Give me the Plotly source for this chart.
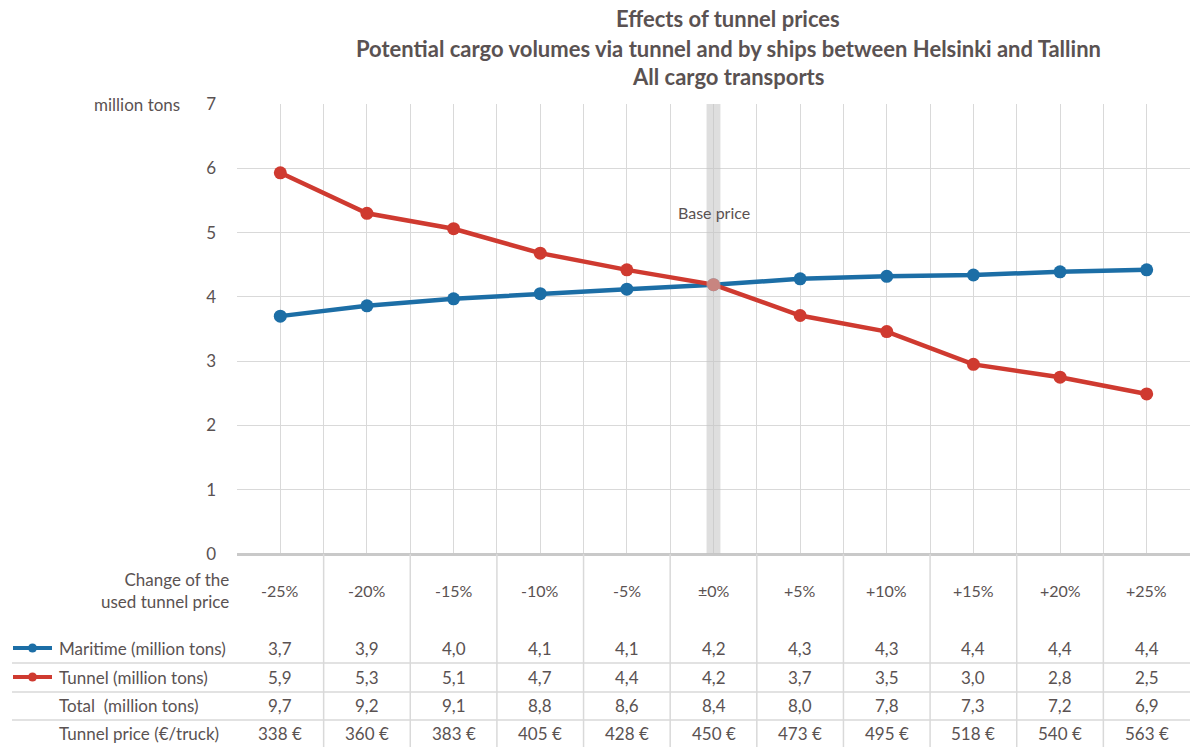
import plotly.graph_objects as go

# ---------------- data ----------------
categories = ["-25%", "-20%", "-15%", "-10%", "-5%", "±0%", "+5%", "+10%", "+15%", "+20%", "+25%"]
maritime = [3.70, 3.86, 3.97, 4.05, 4.12, 4.19, 4.28, 4.32, 4.34, 4.39, 4.42]
tunnel = [5.93, 5.30, 5.06, 4.68, 4.42, 4.19, 3.71, 3.46, 2.95, 2.75, 2.49]
maritime_tbl = ["3,7", "3,9", "4,0", "4,1", "4,1", "4,2", "4,3", "4,3", "4,4", "4,4", "4,4"]
tunnel_tbl = ["5,9", "5,3", "5,1", "4,7", "4,4", "4,2", "3,7", "3,5", "3,0", "2,8", "2,5"]
total_tbl = ["9,7", "9,2", "9,1", "8,8", "8,6", "8,4", "8,0", "7,8", "7,3", "7,2", "6,9"]
price_tbl = ["338 €", "360 €", "383 €", "405 €", "428 €", "450 €", "473 €", "495 €", "518 €", "540 €", "563 €"]
row_labels = ["Maritime (million tons)", "Tunnel (million tons)", "Total  (million tons)", "Tunnel price (€/truck)"]
header_label = "Change of the<br>used tunnel price"
title_lines = ["Effects of tunnel prices",
               "Potential cargo volumes via tunnel and by ships between Helsinki and Tallinn",
               "All cargo transports"]
y_unit = "million tons"
base_label = "Base price"
base_index = 5

# ---------------- style ----------------
W, H = 1190, 747
L, R, T, B = 237, 1190, 104, 554
FONT = "Lato"
TXT = "#5a5252"
GRID = "#d9d9d9"
BLUE = "#1c6ea6"
RED = "#cf3a30"
TBL = 17


def px_x(px):
    return (px - L) / (R - L)


def px_y(py):
    return (B - py) / (B - T)


x = list(range(len(categories)))

fig = go.Figure()
fig.add_trace(go.Scatter(x=x, y=maritime, mode="lines+markers", name=row_labels[0],
                         line=dict(color=BLUE, width=4.5), marker=dict(color=BLUE, size=13),
                         showlegend=False))
fig.add_trace(go.Scatter(x=x, y=tunnel, mode="lines+markers", name=row_labels[1],
                         line=dict(color=RED, width=4.5), marker=dict(color=RED, size=13),
                         showlegend=False))

annotations = []
# title
for i, (t, py) in enumerate(zip(title_lines, [18, 48, 77])):
    annotations.append(dict(text=f"<b>{t}</b>", x=px_x(728), y=px_y(py), xref="paper", yref="paper",
                            showarrow=False, xanchor="center", yanchor="middle",
                            font=dict(family=FONT, size=22, color=TXT)))
# y unit
annotations.append(dict(text=y_unit, x=px_x(182), y=px_y(104), xref="paper", yref="paper",
                        showarrow=False, xanchor="right", yanchor="middle",
                        font=dict(family=FONT, size=17, color=TXT)))
# base price
annotations.append(dict(text=base_label, x=base_index, y=5.32, xref="x", yref="y",
                        showarrow=False, xanchor="center", yanchor="middle",
                        font=dict(family=FONT, size=16, color=TXT)))
# header row
annotations.append(dict(text=header_label, x=px_x(231), y=px_y(590), xref="paper", yref="paper",
                        showarrow=False, xanchor="right", yanchor="middle", align="right",
                        font=dict(family=FONT, size=TBL, color=TXT)))
for i, c in enumerate(categories):
    annotations.append(dict(text=c, x=i, y=px_y(590), xref="x", yref="paper",
                            showarrow=False, xanchor="center", yanchor="middle",
                            font=dict(family=FONT, size=16, color=TXT)))
# data rows
row_ys = [648, 677, 705, 733]
for lab, vals, py in zip(row_labels, [maritime_tbl, tunnel_tbl, total_tbl, price_tbl], row_ys):
    annotations.append(dict(text=lab, x=px_x(57), y=px_y(py), xref="paper", yref="paper",
                            showarrow=False, xanchor="left", yanchor="middle",
                            font=dict(family=FONT, size=TBL, color=TXT)))
    for i, v in enumerate(vals):
        annotations.append(dict(text=v, x=i, y=px_y(py), xref="x", yref="paper",
                                showarrow=False, xanchor="center", yanchor="middle",
                                font=dict(family=FONT, size=TBL, color=TXT)))

shapes = []
# base price band
shapes.append(dict(type="rect", x0=base_index - 0.08, x1=base_index + 0.08, y0=0, y1=7,
                   xref="x", yref="y", fillcolor="rgba(195,195,195,0.55)", line=dict(width=0),
                   layer="above"))
# table grid
for k in range(len(categories) - 1):
    shapes.append(dict(type="line", x0=k + 0.5, x1=k + 0.5, y0=px_y(B), y1=px_y(H),
                       xref="x", yref="paper", line=dict(color=GRID, width=1.5)))
for py in [663, 692, 720]:
    shapes.append(dict(type="line", x0=px_x(12), x1=px_x(1190), y0=px_y(py), y1=px_y(py),
                       xref="paper", yref="paper", line=dict(color=GRID, width=1.5)))
# legend keys in table
for col, py in [(BLUE, 648), (RED, 677)]:
    shapes.append(dict(type="line", x0=px_x(13), x1=px_x(52), y0=px_y(py), y1=px_y(py),
                       xref="paper", yref="paper", line=dict(color=col, width=4)))
    shapes.append(dict(type="circle", x0=px_x(28), x1=px_x(37), y0=px_y(py + 4.5), y1=px_y(py - 4.5),
                       xref="paper", yref="paper", fillcolor=col, line=dict(width=0)))

fig.update_layout(
    width=W, height=H,
    margin=dict(l=L, r=W - R, t=T, b=H - B, pad=0),
    paper_bgcolor="white", plot_bgcolor="white",
    xaxis=dict(range=[-0.5, len(categories) - 0.5], tickmode="linear", tick0=0, dtick=0.5,
               showticklabels=False, showgrid=True, gridcolor=GRID, gridwidth=1.2,
               zeroline=False, showline=False, ticks=""),
    yaxis=dict(range=[0, 7], tickmode="linear", tick0=0, dtick=1, showgrid=True,
               gridcolor=GRID, gridwidth=1.2, zeroline=True, zerolinecolor="#c9c9c9",
               zerolinewidth=3, showline=False, ticks="", ticklabelstandoff=20,
               tickfont=dict(family=FONT, size=17, color=TXT)),
    annotations=annotations,
    shapes=shapes,
    font=dict(family=FONT, color=TXT),
)

fig.write_html("out.html", config={"displayModeBar": False},
               post_script="document.body.style.margin='0';document.body.style.padding='0';"
                           "document.body.style.overflow='hidden';")
